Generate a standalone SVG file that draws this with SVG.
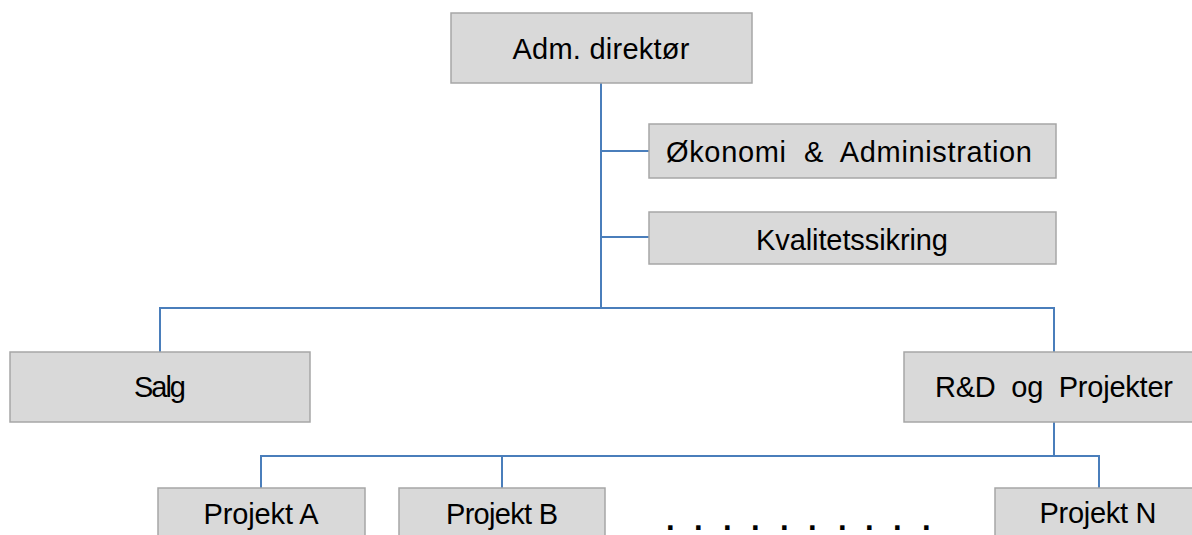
<svg xmlns="http://www.w3.org/2000/svg" width="1192" height="535" viewBox="0 0 1192 535">
  <style>
    .box { fill: #d9d9d9; stroke: #a6a6a6; stroke-width: 1.5; }
    .lbl { font-family: "Liberation Sans", "Open Sans", sans-serif; font-size: 29px; fill: #000; text-anchor: middle; }
    .link { fill: none; stroke: #4a7ebb; stroke-width: 2; }
    .dots { font-family: "Liberation Sans", sans-serif; font-size: 31px; font-weight: bold; fill: #000; }
  </style>
  <rect width="1192" height="535" fill="#ffffff"/>

  <!-- connectors -->
  <g id="connectors">
    <path class="link" d="M601 83 V308"/>
    <path class="link" d="M601 151 H649"/>
    <path class="link" d="M601 237 H649"/>
    <path class="link" d="M160 352 V308 H1054 V352"/>
    <path class="link" d="M1054 422 V456"/>
    <path class="link" d="M261 488 V456 H1099 V488"/>
    <path class="link" d="M502 456 V488"/>
  </g>

  <g id="adm-direktor">
    <rect class="box" x="451" y="13" width="301" height="70"/>
    <text class="lbl" x="601" y="59" textLength="177" lengthAdjust="spacing">Adm. direktør</text>
  </g>

  <g id="okonomi">
    <rect class="box" x="649" y="124" width="407" height="54"/>
    <text class="lbl" x="849" y="162" textLength="366" lengthAdjust="spacing" xml:space="preserve">Økonomi  &amp;  Administration</text>
  </g>

  <g id="kvalitet">
    <rect class="box" x="649" y="212" width="407" height="52"/>
    <text class="lbl" x="852" y="250" textLength="192" lengthAdjust="spacing">Kvalitetssikring</text>
  </g>

  <g id="salg">
    <rect class="box" x="10" y="352" width="300" height="70"/>
    <text class="lbl" x="160" y="397" textLength="52" lengthAdjust="spacing">Salg</text>
  </g>

  <g id="rd-projekter">
    <rect class="box" x="904" y="352" width="300" height="70"/>
    <text class="lbl" x="1054" y="397" textLength="238" lengthAdjust="spacing" xml:space="preserve">R&amp;D  og  Projekter</text>
  </g>

  <g id="projekt-a">
    <rect class="box" x="158" y="488" width="207" height="60"/>
    <text class="lbl" x="261" y="524" textLength="115" lengthAdjust="spacing">Projekt A</text>
  </g>

  <g id="projekt-b">
    <rect class="box" x="399" y="488" width="206" height="60"/>
    <text class="lbl" x="502" y="524" textLength="112" lengthAdjust="spacing">Projekt B</text>
  </g>

  <g id="ellipsis">
    <text class="dots" x="666 694 723 751 780 808 838 865 893 922" y="530">..........</text>
  </g>

  <g id="projekt-n">
    <rect class="box" x="995" y="488" width="208" height="60"/>
    <text class="lbl" x="1098" y="523" textLength="117" lengthAdjust="spacing">Projekt N</text>
  </g>
</svg>
